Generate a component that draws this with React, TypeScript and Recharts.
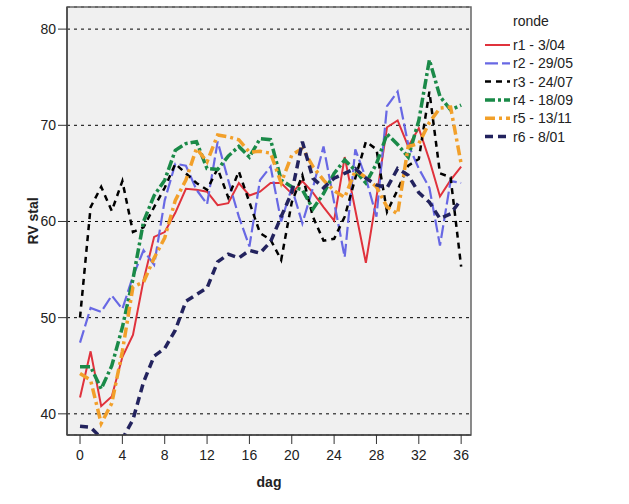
import React from 'react';
import { LineChart, Line, XAxis, YAxis, CartesianGrid, ReferenceArea } from 'recharts';

const dagen = [0,1,2,3,4,5,6,7,8,9,10,11,12,13,14,15,16,17,18,19,20,21,22,23,24,25,26,27,28,29,30,31,32,33,34,35,36];

const r1 = [41.7,46.5,40.8,41.8,45.9,48.2,53.9,58.4,58.9,60.9,63.4,63.3,63.1,61.7,61.9,64.0,62.7,63.1,64.0,64.0,62.9,64.2,63.0,61.5,60.1,66.7,61.2,55.7,62.5,69.8,70.5,67.8,69.7,66.4,62.6,64.3,65.7];
const r2 = [47.4,51.0,50.6,52.3,50.9,54.3,57.0,55.5,62.2,66.0,65.8,63.3,61.8,68.3,64.3,60.5,57.4,64.3,65.7,60.0,63.5,59.8,63.5,67.8,62.0,56.3,67.5,64.5,60.5,72.0,73.5,68.0,65.5,63.5,57.5,64.2,64.0];
const r3 = [50.0,61.5,63.6,61.1,64.2,58.9,59.4,61.5,63.5,66.0,65.0,64.0,63.3,65.5,62.5,65.2,62.0,58.8,58.1,56.0,62.0,64.8,60.5,58.0,58.2,60.5,64.5,68.3,67.5,61.0,63.3,65.8,66.5,73.5,65.0,64.6,55.3];
const r4 = [44.9,44.9,42.6,45.0,49.0,54.0,60.0,62.7,64.3,67.4,68.1,68.3,65.5,65.4,66.8,67.8,66.7,68.6,68.5,64.3,63.6,63.3,61.3,62.9,65.0,66.4,65.3,64.0,66.0,69.1,68.0,66.7,70.5,76.8,73.0,71.6,72.1];
const r5 = [44.2,43.5,39.0,41.1,46.5,53.2,53.7,56.2,58.3,62.2,64.3,67.6,66.2,69.0,68.8,68.5,67.2,67.3,67.1,64.0,66.9,67.6,65.7,64.3,63.2,62.5,65.3,64.6,63.6,61.5,60.8,67.8,68.1,70.3,71.8,71.9,66.0];
const r6 = [38.7,38.6,37.5,36.5,37.4,39.4,43.3,46.0,46.8,48.7,51.7,52.4,53.1,55.8,56.6,56.2,57.0,56.7,57.9,60.5,63.0,68.3,64.5,63.5,64.5,65.0,65.5,64.5,63.8,63.5,65.5,64.8,63.0,62.0,60.3,60.8,62.3];

const xTicks = [0,4,8,12,16,20,24,28,32,36];
const yTicks = [40,50,60,70,80];
const xDomain = [-1.23, 36.93];
const yDomain = [37.8, 82.3];

const series = [
  { key: 'r1', name: 'r1 - 3/04', values: r1, color: '#e0323c', width: 2, dash: undefined },
  { key: 'r2', name: 'r2 - 29/05', values: r2, color: '#6868e4', width: 2.2, dash: '13 4' },
  { key: 'r3', name: 'r3 - 24/07', values: r3, color: '#000000', width: 2.5, dash: '6 5' },
  { key: 'r4', name: 'r4 - 18/09', values: r4, color: '#1a8a48', width: 3.5, dash: '10 3 3 3' },
  { key: 'r5', name: 'r5 - 13/11', values: r5, color: '#f2a02a', width: 3.5, dash: '10 4 3 4' },
  { key: 'r6', name: 'r6 - 8/01', values: r6, color: '#23235e', width: 3.5, dash: '8 5' },
];

const data = dagen.map((d, i) => {
  const row: any = { dag: d };
  series.forEach(s => { row[s.key] = s.values[i]; });
  return row;
});

const FONT = '"Liberation Sans", Arial, sans-serif';

const LegendBox = () => (
  <svg width={150} height={150} style={{ display: 'block' }}>
    <text x={35} y={26} fontSize={14} fontFamily={FONT} fill="#222">ronde</text>
    {series.map((s, i) => {
      const y = 45 + i * 18.3;
      return (
        <g key={s.key}>
          <line x1={7} x2={32} y1={y} y2={y} stroke={s.color} strokeWidth={s.width} strokeDasharray={s.dash} />
          <text x={35} y={y + 5} fontSize={14} fontFamily={FONT} fill="#222">{s.name}</text>
        </g>
      );
    })}
  </svg>
);

export default function App() {
  return (
    <div style={{ position: 'absolute', left: 0, top: 0, width: 629, height: 504, background: '#fff' }}>
      <LineChart width={629} height={504} data={data} margin={{ top: 7, right: 158, left: 0, bottom: 19 }}>
        <CartesianGrid vertical={false} horizontal={true} fill="#f0f0f0" stroke="#000" strokeDasharray="3 4" strokeWidth={1} />
        <XAxis
          type="number"
          dataKey="dag"
          domain={xDomain}
          ticks={xTicks}
          allowDataOverflow
          height={50}
          tickSize={9}
          tickMargin={6}
          stroke="#333"
          tick={{ fontSize: 14, fill: '#222', fontFamily: FONT }}
          axisLine={{ stroke: '#444', strokeWidth: 1.5 }}
          label={{ value: 'dag', position: 'insideBottom', offset: 0, dy: 2, style: { fontSize: 14, fontWeight: 'bold', fill: '#222', fontFamily: FONT } }}
        />
        <YAxis
          type="number"
          domain={yDomain}
          ticks={yTicks}
          allowDataOverflow
          width={67}
          tickSize={9}
          tickMargin={2}
          stroke="#333"
          tick={{ fontSize: 14, fill: '#222', fontFamily: FONT }}
          axisLine={{ stroke: '#444', strokeWidth: 1.5 }}
          label={{
            content: (props: any) => {
              const vb = props.viewBox || { y: 7, height: 428 };
              const cy = vb.y + vb.height / 2;
              return (
                <text x={33} y={cy} transform={`rotate(-90 33 ${cy})`} textAnchor="middle" dominantBaseline="central" fontSize={14} fontWeight="bold" fill="#222" fontFamily={FONT}>RV stal</text>
              );
            },
          }}
        />
        <ReferenceArea x1={xDomain[0]} x2={xDomain[1]} y1={yDomain[0]} y2={yDomain[1]} fill="none" stroke="#666" strokeWidth={1.5} ifOverflow="visible" />
        {series.map(s => (
          <Line
            key={s.key}
            type="linear"
            dataKey={s.key}
            name={s.name}
            stroke={s.color}
            strokeWidth={s.width}
            strokeDasharray={s.dash}
            dot={false}
            activeDot={false}
            isAnimationActive={false}
          />
        ))}
      </LineChart>
      <div style={{ position: 'absolute', left: 478, top: 0 }}>
        <LegendBox />
      </div>
    </div>
  );
}
